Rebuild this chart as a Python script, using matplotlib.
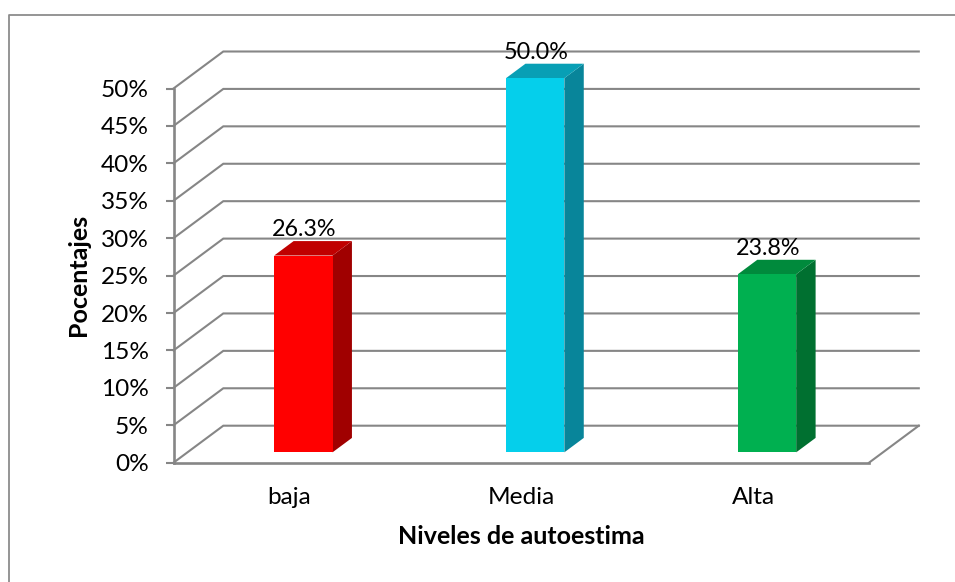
import matplotlib
matplotlib.use("Agg")
import matplotlib.pyplot as plt
from matplotlib.lines import Line2D
from matplotlib.patches import Polygon

categories = ["baja", "Media", "Alta"]
values = [26.3, 50.0, 23.8]
front_colors = ["#FF0000", "#05CFEB", "#00B050"]
side_colors = ["#A00000", "#08859A", "#007030"]
top_colors = ["#C00000", "#089FB5", "#008A3C"]
y_ticks = [0, 5, 10, 15, 20, 25, 30, 35, 40, 45, 50]
y_labels = [f"{v}%" for v in y_ticks]

W, H = 955, 582
plt.rcParams["font.family"] = ["Lato", "DejaVu Sans"]
GRID = "#868686"
TXT = "#000000"
FS_TICK = 17.6
FS_DATA = 16.8
FS_TITLE = 18.0

fig = plt.figure(figsize=(W / 100, H / 100), dpi=100, facecolor="white")
ax = fig.add_axes([173.5 / W, (H - 462.7) / H, 695.5 / W, 374.2 / H])
ax.set_xlim(0, 3)
ax.set_ylim(0, 50)
ax.patch.set_visible(False)

# depth vector of the 3-D box, in data units
DX = 49.8 / (695.5 / 3)
DY = 37.0 / (374.2 / 50)


def proj(x, y, d):
    return x + DX * d, y + DY * d


# walls and floor
for v in y_ticks:
    bx, by = proj(0, v, 1)
    ex, ey = proj(3, v, 1)
    ax.plot([0, bx, ex], [v, by, ey], color=GRID, lw=1.5, clip_on=False,
            solid_joinstyle="miter", zorder=1)
fx, fy = proj(3, 0, 1)
ax.plot([3, fx], [0, fy], color=GRID, lw=1.5, clip_on=False, zorder=1)

# bars
BAR_W = 0.2515
D0, D1 = 0.28, 0.67
for i, v in enumerate(values):
    xl = i + 0.5 - BAR_W / 2
    xr = i + 0.5 + BAR_W / 2
    front = [proj(xl, 0, D0), proj(xr, 0, D0), proj(xr, v, D0), proj(xl, v, D0)]
    side = [proj(xr, 0, D0), proj(xr, 0, D1), proj(xr, v, D1), proj(xr, v, D0)]
    top = [proj(xl, v, D0), proj(xr, v, D0), proj(xr, v, D1), proj(xl, v, D1)]
    for pts, col in ((side, side_colors[i]), (top, top_colors[i]), (front, front_colors[i])):
        ax.add_patch(Polygon(pts, closed=True, facecolor=col, edgecolor="none",
                             clip_on=False, zorder=3))
    lx, ly = proj(i + 0.5, v, D1)
    ax.annotate(f"{v:.1f}%", (lx, ly), xytext=(-13.3, 0.5), textcoords="offset points",
                ha="center", va="bottom", fontsize=FS_DATA, color=TXT, zorder=5,
                annotation_clip=False)

# axes
for s in ("top", "right"):
    ax.spines[s].set_visible(False)
for s in ("left", "bottom"):
    ax.spines[s].set_color(GRID)
    ax.spines[s].set_linewidth(1.9)
    ax.spines[s].set_zorder(2)
ax.set_yticks(y_ticks)
ax.set_yticklabels(y_labels, fontsize=FS_TICK, color=TXT)
ax.tick_params(axis="y", length=5.8, width=1.5, color=GRID, pad=12)
ax.set_xticks([i + 0.5 for i in range(len(categories))])
ax.set_xticklabels(categories, fontsize=FS_TICK, color=TXT)
ax.tick_params(axis="x", length=0, pad=17.5)
ax.set_xlabel("Niveles de autoestima", fontsize=FS_TITLE, fontweight="bold", color=TXT, va="center")
ax.xaxis.set_label_coords(0.5, (462.7 - 536) / 374.2)
ax.set_ylabel("Pocentajes", fontsize=FS_TITLE, fontweight="bold", color=TXT, va="center")
ax.yaxis.set_label_coords((78.5 - 173.5) / 695.5, (462.7 - 275) / 374.2)

# chart-area border (left and top edges visible)
fig.add_artist(Line2D([8.5 / W, 8.5 / W, 1], [0, (H - 14.5) / H, (H - 14.5) / H],
                      color="#8C8C8C", lw=1.3, transform=fig.transFigure))

fig.savefig("out.png", dpi=100, facecolor="white")
